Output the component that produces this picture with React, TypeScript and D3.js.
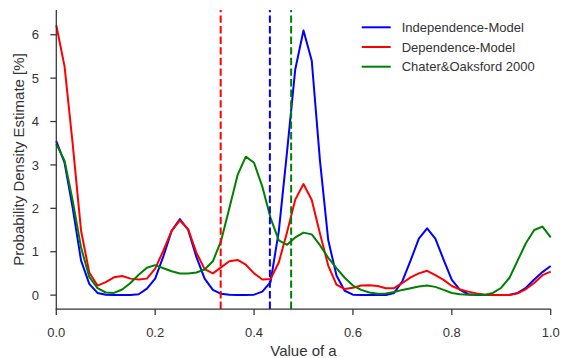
import React from 'react';
import * as d3 from 'd3';

// x grid (value of a)
const aValues = [0, 0.0167, 0.0333, 0.05, 0.0667, 0.0833, 0.1, 0.1167, 0.1333, 0.15, 0.1667, 0.1833, 0.2, 0.2167, 0.2333, 0.25, 0.2667, 0.2833, 0.3, 0.3167, 0.3333, 0.35, 0.3667, 0.3833, 0.4, 0.4167, 0.4333, 0.45, 0.4667, 0.4833, 0.5, 0.5167, 0.5333, 0.55, 0.5667, 0.5833, 0.6, 0.6167, 0.6333, 0.65, 0.6667, 0.6833, 0.7, 0.7167, 0.7333, 0.75, 0.7667, 0.7833, 0.8, 0.8167, 0.8333, 0.85, 0.8667, 0.8833, 0.9, 0.9167, 0.9333, 0.95, 0.9667, 0.9833, 1.0];

const independence = [3.55, 3.05, 2.0, 0.8, 0.26, 0.05, 0.01, 0, 0, 0, 0.02, 0.15, 0.38, 0.9, 1.48, 1.75, 1.5, 0.88, 0.38, 0.12, 0.03, 0.01, 0, 0, 0.01, 0.08, 0.3, 1.47, 3.3, 5.2, 6.1, 5.4, 3.1, 1.27, 0.45, 0.1, 0.01, 0, 0, 0, 0, 0.05, 0.32, 0.8, 1.3, 1.54, 1.3, 0.82, 0.35, 0.12, 0.02, 0, 0, 0, 0, 0.01, 0.05, 0.17, 0.36, 0.53, 0.67];

const dependence = [6.22, 5.27, 3.47, 1.49, 0.52, 0.22, 0.3, 0.41, 0.44, 0.38, 0.36, 0.38, 0.61, 1.03, 1.48, 1.72, 1.52, 0.98, 0.6, 0.5, 0.64, 0.78, 0.81, 0.7, 0.5, 0.36, 0.37, 0.75, 1.45, 2.2, 2.56, 2.19, 1.42, 0.68, 0.24, 0.14, 0.17, 0.22, 0.23, 0.21, 0.16, 0.16, 0.28, 0.41, 0.5, 0.56, 0.46, 0.35, 0.21, 0.13, 0.08, 0.04, 0.01, 0, 0, 0, 0.04, 0.14, 0.28, 0.46, 0.54];

const chaterOaksford = [3.48, 3.1, 2.17, 1.1, 0.42, 0.16, 0.06, 0.05, 0.13, 0.28, 0.47, 0.63, 0.69, 0.62, 0.55, 0.5, 0.5, 0.52, 0.59, 0.78, 1.25, 2.0, 2.77, 3.19, 3.05, 2.5, 1.78, 1.26, 1.16, 1.33, 1.44, 1.4, 1.15, 0.86, 0.62, 0.4, 0.22, 0.12, 0.06, 0.03, 0.04, 0.07, 0.12, 0.16, 0.2, 0.22, 0.19, 0.12, 0.05, 0.02, 0.01, 0.01, 0.01, 0.05, 0.17, 0.4, 0.8, 1.2, 1.5, 1.58, 1.33];

const seriesNames = ['Independence-Model', 'Dependence-Model', 'Chater&Oaksford 2000'];
const seriesColors = ['#0000ff', '#ff0000', '#008000'];
const seriesData = [independence, dependence, chaterOaksford];

// vertical dashed markers (means)
const markerValues = [0.3325, 0.432, 0.475];
const markerColors = ['#ff0000', '#0000ff', '#008000'];

const xTicks = [0, 0.2, 0.4, 0.6, 0.8, 1.0];
const yTicks = [0, 1, 2, 3, 4, 5, 6];

const W = 563;
const H = 358;
const left = 56.3;
const right = 550.7;
const top = 10;
const bottom = 309;
const axisColor = '#333333';
const font = "'Liberation Sans', Arial, Helvetica, sans-serif";

export default function App() {
  const x = d3.scaleLinear().domain([0, 1]).range([left, right]);
  const y = d3.scaleLinear().domain([-0.32, 6.57]).range([bottom, top]);

  const line = d3
    .line<[number, number]>()
    .x((d) => x(d[0]))
    .y((d) => y(d[1]));

  return (
    <svg
      width={W}
      height={H}
      style={{ position: 'absolute', left: 0, top: 0, background: '#fff' }}
      fontFamily={font}
    >
      {seriesData.map((vals, i) => (
        <path
          key={seriesNames[i]}
          d={line(vals.map((v, j) => [aValues[j], v] as [number, number])) || ''}
          fill="none"
          stroke={seriesColors[i]}
          strokeWidth={2}
          strokeLinejoin="round"
          strokeLinecap="butt"
        />
      ))}

      {markerValues.map((m, i) => (
        <line
          key={'m' + i}
          x1={x(m)}
          x2={x(m)}
          y1={bottom}
          y2={top}
          stroke={markerColors[i]}
          strokeWidth={2}
          strokeDasharray="7.4,3.2"
        />
      ))}

      {/* spines */}
      <line x1={left} x2={left} y1={top} y2={bottom + 0.6} stroke={axisColor} strokeWidth={1.25} />
      <line x1={left - 0.6} x2={right} y1={bottom} y2={bottom} stroke={axisColor} strokeWidth={1.25} />

      {/* y ticks */}
      {yTicks.map((t) => (
        <g key={'y' + t}>
          <line x1={left - 6} x2={left} y1={y(t)} y2={y(t)} stroke={axisColor} strokeWidth={1.25} />
          <text x={39} y={y(t) + 4.7} textAnchor="end" fontSize={13} fill={axisColor}>
            {d3.format('d')(t)}
          </text>
        </g>
      ))}

      {/* x ticks */}
      {xTicks.map((t) => (
        <g key={'x' + t}>
          <line x1={x(t)} x2={x(t)} y1={bottom} y2={bottom + 6} stroke={axisColor} strokeWidth={1.25} />
          <text x={x(t)} y={336.5} textAnchor="middle" fontSize={13} fill={axisColor}>
            {d3.format('.1f')(t)}
          </text>
        </g>
      ))}

      <text x={(left + right) / 2} y={355.5} textAnchor="middle" fontSize={15} fill={axisColor}>
        Value of a
      </text>
      <text
        transform={`translate(24.3, ${(top + bottom) / 2}) rotate(-90)`}
        textAnchor="middle"
        fontSize={15}
        fill={axisColor}
      >
        Probability Density Estimate [%]
      </text>

      {/* legend */}
      {seriesNames.map((name, i) => (
        <g key={'lg' + i} transform={`translate(0, ${27.3 + i * 19.7})`}>
          <line x1={361.7} x2={390.7} y1={0} y2={0} stroke={seriesColors[i]} strokeWidth={2} />
          <text x={401.7} y={4.7} fontSize={13} fill={axisColor}>
            {name}
          </text>
        </g>
      ))}
    </svg>
  );
}
